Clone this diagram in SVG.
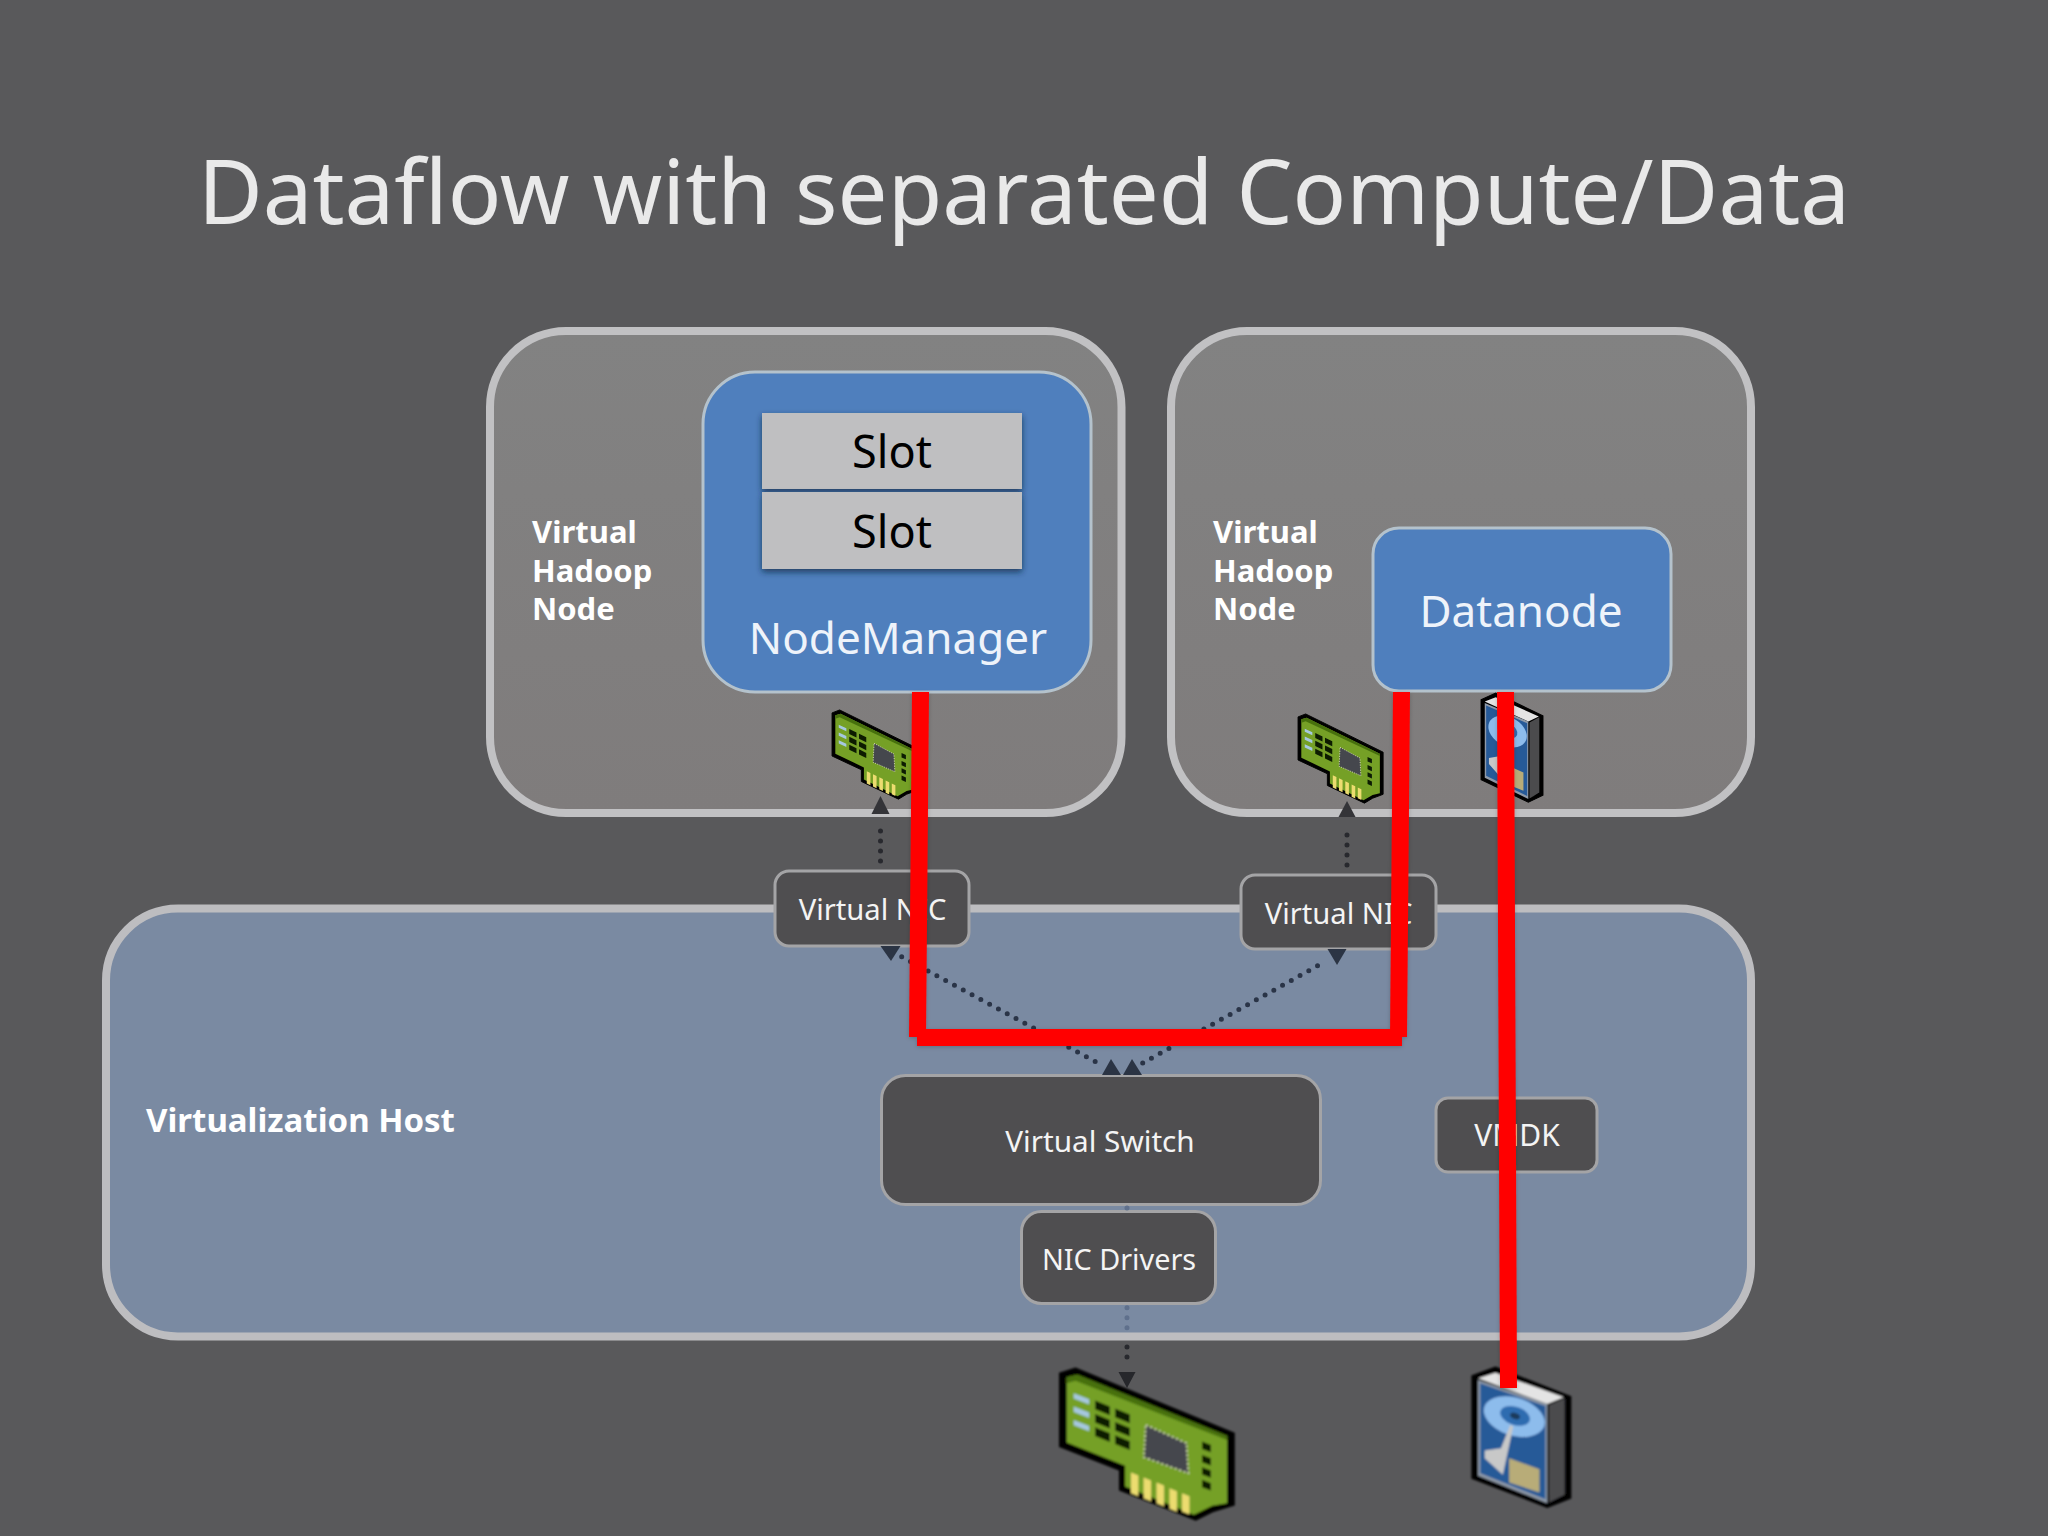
<svg xmlns="http://www.w3.org/2000/svg" xmlns:xlink="http://www.w3.org/1999/xlink" width="2048" height="1536" viewBox="0 0 2048 1536">
<style>
text{font-family:"Noto Sans","Open Sans","Liberation Sans",sans-serif}
.vm{fill:url(#vmg);stroke:#c1c1c3;stroke-width:8}
.host{fill:#7a8aa2;stroke:#bdbdc0;stroke-width:8}
.dark{fill:#4f4e50;stroke:#a4a4a6;stroke-width:3}
.blue{fill:#4f7fbd;stroke:#b4c2cc;stroke-width:3}
.slot{fill:#bfbfc1;filter:url(#sh)}
.lbl{fill:#fff;font-weight:700;font-size:31px}
.w{fill:#f4f4f4;text-anchor:middle}
.w46{fill:#eef3fa;font-size:44px;text-anchor:middle}
.k46{fill:#000;font-size:45px;text-anchor:middle}
.dot{fill:none;stroke:#2a3447;stroke-width:5;stroke-linecap:round;stroke-dasharray:0 10}
.dotd{stroke:#28292e}
.head{fill:#2b3444}
.headd{fill:#343438}
.red{fill:none;stroke:#f00;stroke-width:17;stroke-linecap:butt}
</style>
<defs>
<linearGradient id="vmg" x1="0" y1="0" x2="0" y2="1"><stop offset="0" stop-color="#828282"/><stop offset="1" stop-color="#7f7c7c"/></linearGradient>
<filter id="sh" x="-5%" y="-10%" width="110%" height="130%"><feDropShadow dx="0" dy="3" stdDeviation="3" flood-color="#16263f" flood-opacity=".75"/></filter>
<filter id="rs" x="-5%" y="-5%" width="110%" height="110%"><feDropShadow dx="0" dy="1" stdDeviation="2" flood-color="#000" flood-opacity=".2"/></filter>
<filter id="bl" x="-10%" y="-10%" width="120%" height="120%"><feGaussianBlur stdDeviation=".8"/></filter>
<filter id="bs" x="-10%" y="-10%" width="120%" height="120%"><feGaussianBlur stdDeviation=".7"/></filter>
<g id="nicIcon">
<path d="M108 100L150 85L578 280V495L520 515L475 540L270 450V390L108 320Z" fill="#000" stroke="#000" stroke-width="5"/>
<path d="M126 112L155 104L560 288V490L520 498L470 525L284 440V378L126 308Z" fill="#74a025"/>
<path d="M126 112L155 104L560 288V300L150 122L126 130Z" fill="#476f10"/>
<path d="M145 160l42 18v16l-42-18zM145 200l42 18v16l-42-18zM145 240l42 18v16l-42-18z" fill="#a6c8e0"/>
<path d="M203 182l40 18v26l-40-18zM257 206l40 18v26l-40-18zM203 222l40 18v26l-40-18zM257 246l40 18v26l-40-18zM203 262l40 18v26l-40-18zM257 286l40 18v26l-40-18z" fill="#0a1a05"/>
<path d="M340 255L450 310L455 400L335 352Z" fill="#45474e" stroke="#cfd6b0" stroke-width="5" stroke-dasharray="6 7"/>
<path d="M492 305l24 10v22l-24-10zM492 345l24 10v22l-24-10zM492 382l24 10v22l-24-10zM492 420l24 10v22l-24-10z" fill="#0a1a05"/>
<path d="M300 398l20 9v62l-20-9zM334 413l20 9v62l-20-9zM369 428l20 9v62l-20-9zM404 445l20 9v62l-20-9zM438 460l20 9v55l-20-9z" fill="#ecdc70"/>
</g>
<g id="diskIcon">
<path d="M1222 108L1285 82L1488 170V475L1425 502L1222 415Z" fill="#000" stroke="#000" stroke-width="4"/>
<path d="M1238 115L1285 98L1470 172L1425 192Z" fill="#e4e4e4"/>
<path d="M1430 195L1472 175V465L1430 488Z" fill="#4c4c4e"/>
<path d="M1238 120L1425 192V490L1238 408Z" fill="#8f9aa8"/>
<path d="M1244 130L1420 198V478L1244 400Z" fill="#285a98"/>
<ellipse cx="1336" cy="230" rx="86" ry="56" transform="rotate(22 1336 230)" fill="#8dbcec"/>
<ellipse cx="1338" cy="228" rx="42" ry="27" transform="rotate(22 1338 228)" fill="#2f6cb0"/>
<ellipse cx="1338" cy="228" rx="14" ry="9" transform="rotate(22 1338 228)" fill="#1c3a5c"/>
<path d="M1325 255L1333 260L1305 405L1256 355V332L1300 325Z" fill="#c8c8c8"/>
<path d="M1322 355L1404 388V458L1322 428Z" fill="#b8ac78"/>
</g>
</defs>
<rect id="background" width="2048" height="1536" fill="#59595b"/>
<text id="title" x="198" y="224" font-size="90" fill="#e9e9e9" textLength="1652" lengthAdjust="spacingAndGlyphs">Dataflow with separated Compute/Data</text>

<g id="vm1"><rect class="vm" x="490" y="331" width="631.500" height="482" rx="76"/>
<text class="lbl"><tspan x="532" y="543">Virtual</tspan><tspan x="532" y="582">Hadoop</tspan><tspan x="532" y="620">Node</tspan></text></g>
<g id="vm2"><rect class="vm" x="1171" y="331" width="580" height="482" rx="76"/>
<text class="lbl"><tspan x="1213" y="543">Virtual</tspan><tspan x="1213" y="582">Hadoop</tspan><tspan x="1213" y="620">Node</tspan></text></g>
<g id="host"><rect class="host" x="106" y="908.500" width="1645" height="428" rx="72"/>
<text class="lbl" x="146" y="1132" style="font-size:33px">Virtualization Host</text></g>

<g id="nodemanager"><rect class="blue" x="703" y="372" width="388" height="320" rx="52"/>
<text class="w46" x="898" y="654">NodeManager</text></g>
<g id="slot1"><rect class="slot" x="762" y="413" width="260" height="76"/><text class="k46" x="892" y="468">Slot</text></g>
<g id="slot2"><rect class="slot" x="762" y="492" width="260" height="77"/><text class="k46" x="892" y="548">Slot</text></g>
<g id="datanode"><rect class="blue" x="1373" y="528" width="298" height="163" rx="26"/>
<text class="w46" x="1521" y="627">Datanode</text></g>

<g id="nic-vm1" filter="url(#bs)"><use xlink:href="#nicIcon" href="#nicIcon" transform="translate(812.500 693.300) scale(.181 .196)"/></g>
<g id="nic-vm2" filter="url(#bs)"><use xlink:href="#nicIcon" href="#nicIcon" transform="translate(1278.500 697.300) scale(.181 .196)"/></g>
<g id="disk-vm2" filter="url(#bs)"><use xlink:href="#diskIcon" href="#diskIcon" transform="translate(1196.300 671.700) scale(.233 .26)"/></g>
<g id="nic-physical" filter="url(#bl)"><use xlink:href="#nicIcon" href="#nicIcon" transform="translate(1020 1340) scale(.37 .333)"/></g>
<g id="disk-physical" filter="url(#bl)"><use xlink:href="#diskIcon" href="#diskIcon" transform="translate(1020 1340) scale(.37 .333)"/></g>

<g id="vnic1"><rect class="dark" x="775" y="871" width="194" height="75" rx="14"/><text class="w" font-size="29.200" x="872.500" y="920">Virtual NIC</text></g>
<g id="vnic2"><rect class="dark" x="1241" y="875" width="195" height="74" rx="14"/><text class="w" font-size="29.200" x="1338.500" y="924">Virtual NIC</text></g>
<g id="vswitch"><rect class="dark" x="881.500" y="1075.500" width="439" height="129" rx="24"/><text class="w" font-size="29.700" x="1100" y="1152">Virtual Switch</text></g>
<g id="nicdrivers"><rect class="dark" x="1021.500" y="1211.500" width="194" height="92" rx="20"/><text class="w" font-size="28.800" x="1119" y="1270">NIC Drivers</text></g>
<g id="vmdk"><rect class="dark" x="1436" y="1098" width="161" height="74" rx="12"/><text class="w" font-size="30" x="1517" y="1146">VMDK</text></g>

<g id="connectors">
<path class="dot dotd" d="M880.500 861V821"/>
<path class="head headd" d="M880.500 796L889.500 814H871.500Z"/>
<path class="dot dotd" d="M1347 865V825"/>
<path class="head headd" d="M1347 801L1355.500 817H1338.500Z"/>
<path class="dot" d="M901.700 956.700L1103 1065.700"/>
<path class="head" d="M891 961L880.500 946H900.500Z"/>
<path class="head" d="M1111 1059L1121 1075H1102Z"/>
<path class="dot" d="M1142.700 1063L1325 961.700"/>
<path class="head" d="M1337 965L1327.500 949H1346.500Z"/>
<path class="head" d="M1132 1059L1142 1075H1123Z"/>
<path class="dot" d="M1127 1208V1209M1127 1307.700V1328" style="stroke:#5f708c"/>
<path class="dot dotd" d="M1127 1347V1367"/>
<path class="head headd" d="M1127 1388L1135.500 1372H1118.500Z" style="fill:#26272b"/>
<g filter="url(#rs)">
<path class="red" d="M920.500 692L917.500 1037"/>
<path class="red" d="M917 1037.500H1402"/>
<path class="red" d="M1401.500 692L1398.500 1037"/>
<path class="red" d="M1505.500 692L1508.500 1388"/>
</g>
</g>
</svg>
